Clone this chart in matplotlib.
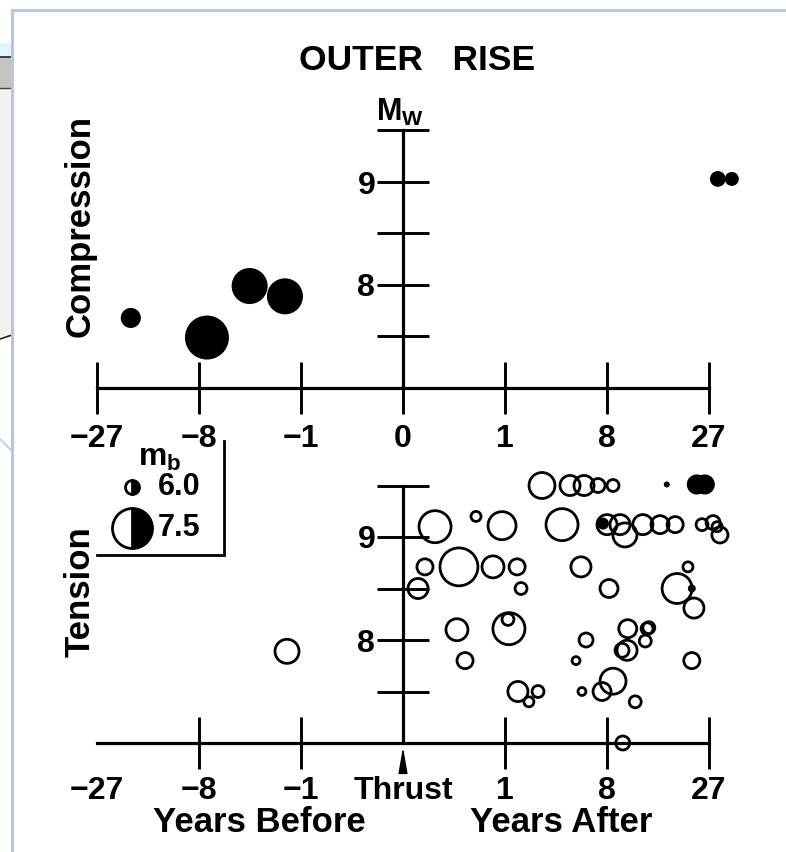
#!/usr/bin/env python3
"""Outer-rise events vs time relative to the thrust (cube-root time axis)."""
import numpy as np
import matplotlib.pyplot as plt
from matplotlib.patches import Rectangle

plt.rcParams['font.family'] = ['Liberation Sans', 'DejaVu Sans']
plt.rcParams['font.weight'] = 'bold'
plt.rcParams['mathtext.default'] = 'regular'

# time axis ticks (years, cube-root spacing)
tick_years = [-27, -8, -1, 0, 1, 8, 27]
top_labels = ["\u221227", "\u22128", "\u22121", "0", "1", "8", "27"]
bot_labels = ["\u221227", "\u22128", "\u22121", "Thrust", "1", "8", "27"]

# compression events (solid symbols): years from thrust, Mw, mb
comp_years = [-19.0, -7.1, -3.4, -1.55, 29.4, 33.5]
comp_mw = [7.68, 7.49, 7.99, 7.89, 9.03, 9.03]
comp_mb = [6.35, 7.73, 7.27, 7.27, 6.1, 6.0]

# tension events (open symbols)
tens_years = [-1.47, 2.53, 4.39, 5.59, 6.99, 8.73, 17.3, 23.9, 25.9,
              0.031, 0.367, 0.915, 3.79, 7.54, 8.0, 9.63, 10.3, 13.0, 16.0,
              19.0, 25.2, 28.1, 30.0, 29.2,
              0.010, 0.165, 0.687, 1.40, 5.31, 21.8,
              0.0032, 1.55, 8.24, 19.4, 22.7, 23.2,
              0.148, 1.12, 1.09, 0.225, 1.43, 2.32, 1.88, 5.78, 4.88, 5.40,
              10.7, 13.7, 14.0, 13.4, 10.6, 9.90, 8.73, 7.43, 11.8, 22.7, 10.0]
tens_mw = [7.89, 9.50, 9.50, 9.50, 9.50, 9.50, 9.51, 9.51, 9.51,
           9.10, 9.20, 9.11, 9.12, 9.13, 9.12, 9.12, 9.02, 9.12, 9.12,
           9.12, 9.12, 9.14, 9.02, 9.10,
           8.71, 8.71, 8.71, 8.71, 8.71, 8.71,
           8.50, 8.50, 8.50, 8.50, 8.50, 8.31,
           8.10, 8.11, 8.20, 7.80, 7.50, 7.50, 7.40, 8.00, 7.80, 7.50,
           8.11, 8.11, 8.12, 7.99, 7.90, 7.90, 7.60, 7.50, 7.40, 7.80, 7.00]
tens_mb = [6.58, 6.69, 6.35, 6.35, 6.0, 5.88, 5.54, 6.35, 6.35,
           7.04, 5.77, 6.81, 7.04, 5.88, 6.35, 6.35, 6.58, 6.35, 6.23,
           6.12, 5.88, 6.0, 6.12, 5.77,
           6.12, 7.38, 6.46, 6.12, 6.35, 5.77,
           6.35, 5.88, 6.23, 6.92, 5.65, 6.35,
           6.46, 7.04, 5.88, 6.12, 6.35, 5.88, 5.77, 6.0, 5.65, 5.65,
           6.23, 5.88, 5.88, 5.88, 6.35, 6.0, 6.69, 6.23, 5.88, 6.12, 6.0]
tens_solid = [6, 7, 8, 13, 34]   # tension events drawn as solid dots

legend_mb = [6.0, 7.5]

DPI = 100
W, H = 786, 852
X0, PX_X = 403, 102     # pixel of thrust time, px per cube-root year
PX_Y = 103              # px per Mw unit
LW = 2.0


def radius_px(mb):
    return 7 + (np.asarray(mb, dtype=float) - 6.0) * 8.67


def diam_pt(mb):
    return 2 * radius_px(mb) * 72 / DPI


def add_panel(fig, px_left, px_right, px_top, px_bot, base_px):
    ax = fig.add_axes([px_left / W, 1 - px_bot / H,
                       (px_right - px_left) / W, (px_bot - px_top) / H])
    ax.set_xscale('function', functions=(np.cbrt, lambda v: np.asarray(v) ** 3))
    c0 = (px_left - X0) / PX_X
    c1 = (px_right - X0) / PX_X
    ax.set_xlim(c0 ** 3, c1 ** 3)
    ax.set_ylim(7 - (px_bot - base_px) / PX_Y, 7 + (base_px - px_top) / PX_Y)
    ax.patch.set_visible(False)
    for s in ('top', 'right'):
        ax.spines[s].set_visible(False)
    ax.spines['left'].set_position(('data', 0))
    ax.spines['bottom'].set_position(('data', 7.0))
    ax.spines['left'].set_bounds(7.0, 9.5)
    ax.spines['bottom'].set_bounds(-27, 27)
    for s in ('left', 'bottom'):
        ax.spines[s].set_linewidth(2.3)
    ax.set_yticks([8, 9], ["8", "9"])
    ax.set_yticks([7.5, 8.5, 9.5], minor=True)
    ax.xaxis.set_minor_locator(plt.NullLocator())
    ax.tick_params(axis='y', which='both', direction='inout', length=38,
                   width=2.1, labelsize=23, pad=1)
    ax.tick_params(axis='x', which='major', direction='inout', length=38,
                   width=2.1, labelsize=23, pad=7)
    return ax


fig = plt.figure(figsize=(W / DPI, H / DPI), dpi=DPI)

# screenshot frame around the scanned figure
bg = fig.add_axes([0, 0, 1, 1], zorder=-5)
bg.set_xlim(0, W)
bg.set_ylim(H, 0)
bg.axis('off')
bg.add_patch(Rectangle((0, 43), 12, 14, color='#dff6fc', lw=0))
bg.add_patch(Rectangle((0, 57), 12, 31, color='#c4c4c4', lw=0))
bg.add_patch(Rectangle((0, 88), 12, 248, color='#f2f2f2', lw=0))
bg.plot([0, 12], [57, 57], color='#222222', lw=1.2)
bg.plot([0, 12], [88, 88], color='#444444', lw=1.0)
bg.plot([0, 12], [339, 335], color='#222222', lw=1.2)
bg.plot([0, 12], [439, 451], color='#b4c7e7', lw=1.2)
bg.plot([12, 12], [10, H], color='#b4c7e7', lw=2.2)
bg.plot([12, W], [10, 10], color='#b4c7e7', lw=2.2)

# compression panel
ax1 = add_panel(fig, 40, 770, 95, 430, 388)
ax1.set_xticks(tick_years, top_labels)
ax1.scatter(comp_years, comp_mw, s=diam_pt(comp_mb) ** 2, color='black',
            linewidths=0, zorder=3, clip_on=False)

# tension panel
ax2 = add_panel(fig, 40, 770, 465, 780, 743)
ax2.set_xticks(tick_years, bot_labels)
ax2.tick_params(axis='x', pad=5)
for i in (0, 3):
    ax2.xaxis.get_major_ticks()[i].tick1line.set_visible(False)

ty = np.array(tens_years)
tm = np.array(tens_mw)
ts = diam_pt(tens_mb) ** 2
solid = np.zeros(len(ty), dtype=bool)
solid[tens_solid] = True
ax2.scatter(ty[~solid], tm[~solid], s=ts[~solid], facecolors='none',
            edgecolors='black', linewidths=LW, zorder=3, clip_on=False)
ax2.scatter(ty[solid], tm[solid], s=ts[solid], color='black',
            linewidths=0, zorder=3, clip_on=False)
ax2.annotate('', xy=(0, 7.0), xytext=(0, -20), textcoords='offset points',
             arrowprops=dict(arrowstyle='-|>,head_length=1.6,head_width=0.28',
                             color='black', lw=1.0, shrinkA=0, shrinkB=3))

# titles and axis words
fig.text(417 / W, 1 - 60 / H, "OUTER   RISE", ha='center', va='center', fontsize=25.5)
fig.text(400 / W, 1 - 112 / H, r"$M_W$", ha='center', va='center', fontsize=22)
fig.text(80 / W, 1 - 226 / H, "Compression", rotation=90, ha='center',
         va='center', fontsize=25)
fig.text(80 / W, 1 - 592 / H, "Tension", rotation=90, ha='center',
         va='center', fontsize=25)
fig.text(259 / W, 1 - 823 / H, "Years Before", ha='center', va='center', fontsize=25)
fig.text(561 / W, 1 - 823 / H, "Years After", ha='center', va='center', fontsize=25)

# mb legend (pixel coordinates)
lg = fig.add_axes([90 / W, 1 - 565 / H, 145 / W, 130 / H])
lg.set_xlim(90, 235)
lg.set_ylim(565, 435)
lg.axis('off')
lg.plot([97, 224, 224], [555, 555, 441], color='black', lw=2.0,
        solid_joinstyle='miter')
lg.text(138, 458, r"$m_b$", ha='left', va='center', fontsize=23)
for mb, yy in zip(legend_mb, [487, 528]):
    lg.plot([132], [yy], marker='o', ms=float(diam_pt(mb)), fillstyle='right',
            markerfacecolor='black', markerfacecoloralt='white',
            markeredgecolor='black', markeredgewidth=LW)
    lg.text(158, yy, f"{mb:.1f}", ha='left', va='center', fontsize=22)

fig.savefig("out.png", dpi=DPI)
